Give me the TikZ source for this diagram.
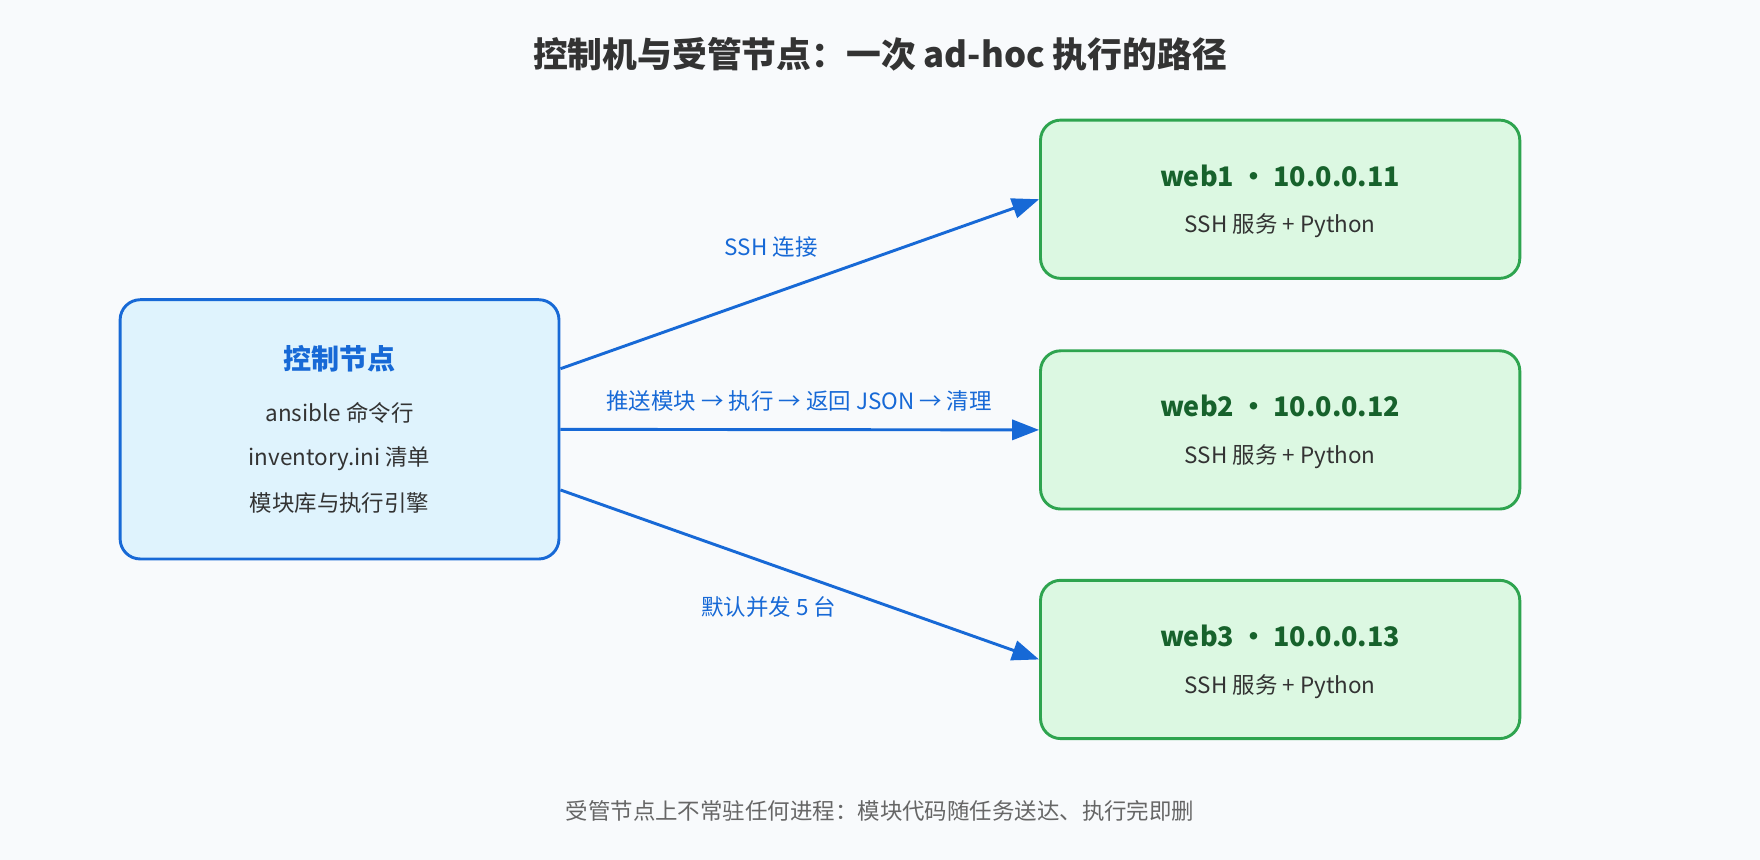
\documentclass[tikz,border=0pt]{standalone}
\usepackage{fontspec}
\setmainfont{Noto Sans CJK SC}
\usetikzlibrary{arrows.meta,positioning}
\definecolor{ctlblue}{HTML}{1769D6}
\definecolor{ctlfill}{HTML}{DFF3FD}
\definecolor{webgreen}{HTML}{2EA44F}
\definecolor{webfill}{HTML}{DCF8E2}
\definecolor{webtext}{HTML}{17622C}
\definecolor{bodytext}{HTML}{333333}
\definecolor{bg}{HTML}{F8FAFC}
\tikzset{
  ctlbox/.style={draw=ctlblue, fill=ctlfill, line width=2.6pt, rounded corners=18pt,
    minimum width=391pt, minimum height=231pt},
  webbox/.style={draw=webgreen, fill=webfill, line width=2.6pt, rounded corners=18pt,
    minimum width=427pt, minimum height=141pt},
  line/.style={font=\fontsize{20}{24}\selectfont, text=bodytext},
  flow/.style={draw=ctlblue, line width=2.6pt, -{Triangle[length=24pt,width=18pt]}},
  flowlabel/.style={font=\fontsize{20}{24}\selectfont, text=ctlblue}
}
\begin{document}
\begin{tikzpicture}[x=1pt,y=-1pt]
    \fill[bg] (0,0) rectangle (1568,766);
    \useasboundingbox (0,0) rectangle (1568,766);
    \node[font=\fontsize{31}{36}\selectfont\bfseries, text=bodytext] (title) at (784,48) {控制机与受管节点：一次 ad-hoc 执行的路径};

    % control node
    \node[ctlbox] (ctl) at (302.5,382.5) {};
    \node[font=\fontsize{25}{30}\selectfont\bfseries, text=ctlblue] (ctltitle) at (302.5,320) {控制节点};
    \node[line] (ctl1) at (302.5,368) {ansible 命令行};
    \node[line] (ctl2) at (302.5,409) {inventory.ini 清单};
    \node[line] (ctl3) at (302.5,448) {模块库与执行引擎};

    % managed nodes
    \foreach \n/\y/\ip in {1/177.5/11, 2/383/12, 3/587.5/13} {
        \node[webbox] (web\n) at (1140.5,\y) {};
        \node[font=\fontsize{24}{28}\selectfont\bfseries, text=webtext] (web\n title) at (1140.5,\y-21) {web\n{} • 10.0.0.\ip};
        \node[line] (web\n text) at (1140.5,\y+24) {SSH 服务 + Python};
    }

    % connections
    \draw[flow] ([yshift=54pt]ctl.east) -- (web1.west);
    \draw[flow] (ctl.east) -- (web2.west);
    \draw[flow] ([yshift=-54pt]ctl.east) -- (web3.west);
    \node[flowlabel] (lab1) at (687,220) {SSH 连接};
    \node[flowlabel] (lab2) at (712,357) {推送模块 → 执行 → 返回 JSON → 清理};
    \node[flowlabel] (lab3) at (685,541) {默认并发 5 台};

    \node[font=\fontsize{20}{24}\selectfont, text=gray!80!black] (note) at (784,722) {受管节点上不常驻任何进程：模块代码随任务送达、执行完即删};
\end{tikzpicture}
\end{document}
